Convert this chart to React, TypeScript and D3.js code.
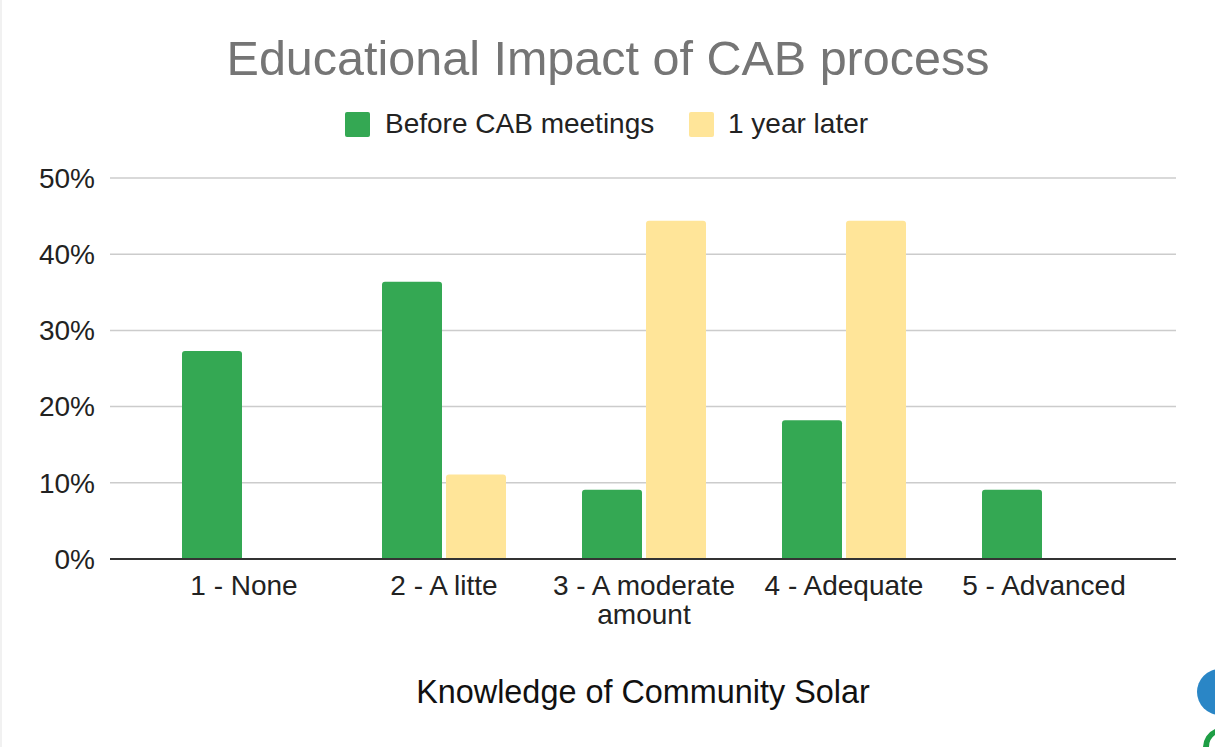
import React from "react";
import * as d3 from "d3";

const categories: string[][] = [
  ["1 - None"],
  ["2 - A litte"],
  ["3 - A moderate", "amount"],
  ["4 - Adequate"],
  ["5 - Advanced"],
];
const seriesNames = ["Before CAB meetings", "1 year later"];
const beforeValues = [0.273, 0.364, 0.091, 0.182, 0.091];
const laterValues = [0, 0.111, 0.444, 0.444, 0];
const yTicks = [0, 0.1, 0.2, 0.3, 0.4, 0.5];
const colors = ["#34a853", "#ffe599"];

const W = 1215;
const H = 747;
const FONT = "Arial, 'Liberation Sans', Helvetica, sans-serif";

export default function App() {
  const keys = categories.map((c) => c.join(" "));
  const x = d3.scaleBand<string>().domain(keys).range([144, 1144]).paddingInner(0.38).paddingOuter(0.19);
  const xs = d3.scaleBand<string>().domain(seriesNames).range([0, x.bandwidth()]).paddingInner(0.0625);
  const y = d3.scaleLinear().domain([0, 0.5]).range([559, 178]);
  const series = [beforeValues, laterValues];
  const fmt = d3.format(".0%");
  const gridX0 = 110;
  const gridX1 = 1176;

  return (
    <svg
      width={W}
      height={H}
      style={{ position: "absolute", left: 0, top: 0, background: "#fff" }}
      fontFamily={FONT}
    >
      <rect x={0} y={0} width={W} height={H} fill="#fff" />
      <rect x={0} y={0} width={2} height={H} fill="#f1f1f1" />
      <text x={608} y={75} textAnchor="middle" fontSize={48.5} fill="#757575">
        Educational Impact of CAB process
      </text>
      {/* legend */}
      <rect x={345} y={112} width={25} height={25} rx={2} fill={colors[0]} />
      <text x={385} y={133} fontSize={28} fill="#222">{seriesNames[0]}</text>
      <rect x={689} y={112} width={25} height={25} rx={2} fill={colors[1]} />
      <text x={728} y={133} fontSize={28} fill="#222">{seriesNames[1]}</text>

      {yTicks.map((t) => (
        <g key={t}>
          {t > 0 && (
            <line x1={gridX0} x2={gridX1} y1={y(t)} y2={y(t)} stroke="#cccccc" strokeWidth={1.5} />
          )}
          <text x={95} y={y(t)} dy="0.35em" textAnchor="end" fontSize={28} fill="#222">
            {fmt(t)}
          </text>
        </g>
      ))}

      {keys.map((k, i) => (
        <g key={k} transform={`translate(${x(k)},0)`}>
          {series.map((vals, s) =>
            vals[i] > 0 ? (
              <path
                key={s}
                d={(() => {
                  const bx = xs(seriesNames[s])!;
                  const bw = xs.bandwidth();
                  const top = y(vals[i]);
                  const bot = y(0);
                  const r = 3;
                  return `M${bx},${bot}V${top + r}Q${bx},${top} ${bx + r},${top}H${bx + bw - r}Q${bx + bw},${top} ${bx + bw},${top + r}V${bot}Z`;
                })()}
                fill={colors[s]}
              />
            ) : null
          )}
        </g>
      ))}

      <line x1={gridX0} x2={gridX1} y1={y(0)} y2={y(0)} stroke="#333" strokeWidth={2} />

      {categories.map((lines, i) => (
        <text
          key={i}
          x={x(keys[i])! + x.bandwidth() / 2}
          y={595}
          textAnchor="middle"
          fontSize={28}
          fill="#222"
        >
          {lines.map((l, j) => (
            <tspan key={j} x={x(keys[i])! + x.bandwidth() / 2} dy={j === 0 ? 0 : 29}>
              {l}
            </tspan>
          ))}
        </text>
      ))}

      <text x={643} y={703} textAnchor="middle" fontSize={32.4} fill="#111">
        Knowledge of Community Solar
      </text>

      {/* corner decorations */}
      <circle cx={1220} cy={692} r={23} fill="#2a86c6" />
      <path d="M1203,747 A20,20 0 0 1 1215,729 L1215,735 A14,14 0 0 0 1209,747 Z" fill="#1e9e45" />
    </svg>
  );
}
